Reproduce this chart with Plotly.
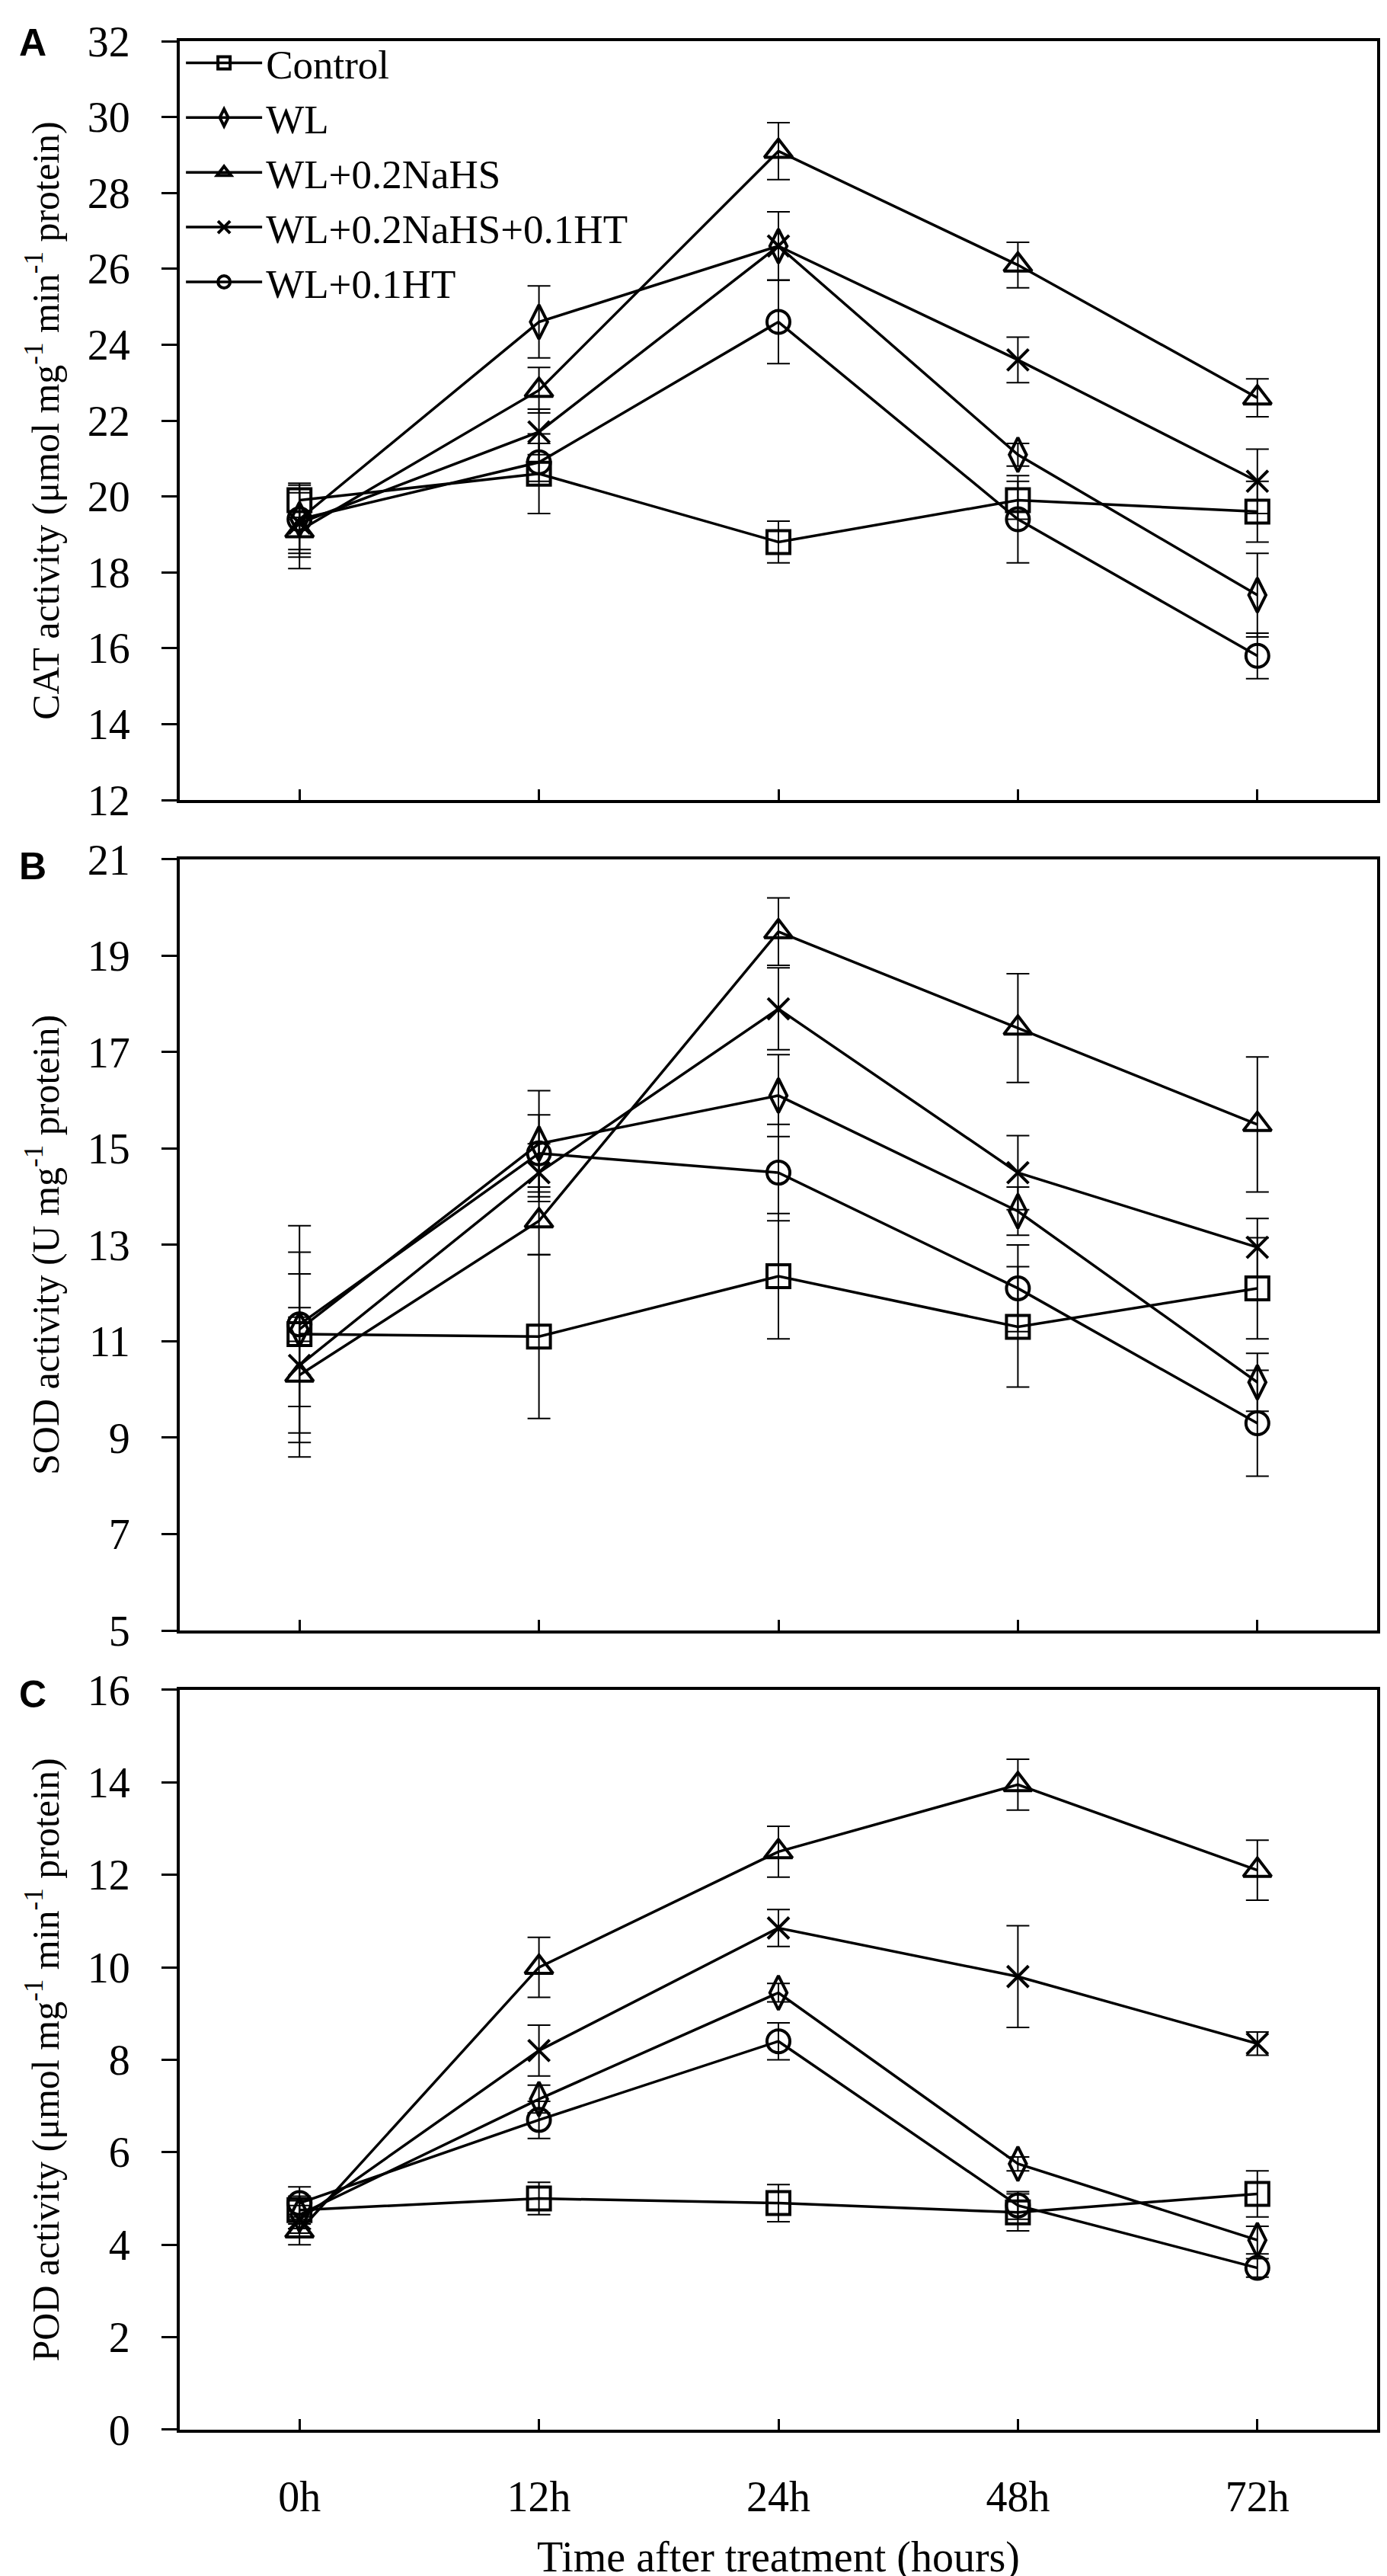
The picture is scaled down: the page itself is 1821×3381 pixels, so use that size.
import plotly.graph_objs as go

# time points
hours = ['0h', '12h', '24h', '48h', '72h']
names = ['Control', 'WL', 'WL+0.2NaHS', 'WL+0.2NaHS+0.1HT', 'WL+0.1HT']

# A: CAT activity
cat_control = [19.9, 20.6, 18.8, 19.9, 19.6]
cat_wl = [19.4, 24.6, 26.6, 21.1, 17.4]
cat_nahs = [19.1, 22.8, 29.1, 26.1, 22.6]
cat_nahs_ht = [19.3, 21.7, 26.6, 23.6, 20.4]
cat_ht = [19.4, 20.9, 24.6, 19.4, 15.8]
cat_control_err = [0.45, 1.05, 0.55, 0.5, 0.8]
cat_wl_err = [0.9, 0.95, 0.9, 0.3, 1.1]
cat_nahs_err = [1.0, 0.6, 0.75, 0.6, 0.5]
cat_nahs_ht_err = [0.9, 0.6, 0.9, 0.6, 0.85]
cat_ht_err = [0.8, 0.5, 1.1, 1.15, 0.6]

# B: SOD activity
sod_control = [11.15, 11.1, 12.35, 11.3, 12.1]
sod_wl = [11.25, 15.1, 16.1, 13.7, 10.15]
sod_nahs = [10.3, 13.5, 19.5, 17.5, 15.5]
sod_nahs_ht = [10.5, 14.5, 17.9, 14.5, 12.95]
sod_ht = [11.35, 14.9, 14.5, 12.1, 9.3]
sod_control_err = [2.25, 1.7, 1.3, 1.25, 1.05]
sod_wl_err = [1.6, 1.1, 0.85, 0.5, 0.6]
sod_nahs_err = [1.2, 0.7, 0.7, 1.13, 1.4]
sod_nahs_ht_err = [1.9, 0.6, 0.85, 0.77, 0.6]
sod_ht_err = [0.35, 0.8, 1.0, 0.9, 1.1]

# C: POD activity
pod_control = [4.75, 5.0, 4.9, 4.7, 5.1]
pod_wl = [4.65, 7.15, 9.45, 5.75, 4.1]
pod_nahs = [4.3, 10.0, 12.5, 13.95, 12.1]
pod_nahs_ht = [4.55, 8.2, 10.85, 9.8, 8.35]
pod_ht = [4.9, 6.7, 8.4, 4.85, 3.5]
pod_control_err = [0.3, 0.35, 0.4, 0.4, 0.5]
pod_wl_err = [0.3, 0.3, 0.2, 0.15, 0.3]
pod_nahs_err = [0.3, 0.65, 0.55, 0.55, 0.65]
pod_nahs_ht_err = [0.3, 0.55, 0.4, 1.1, 0.25]
pod_ht_err = [0.35, 0.4, 0.4, 0.3, 0.2]

symbols = ['square-open', 'diamond-tall-open', 'triangle-up-open', 'x-thin-open', 'circle-open']
msizes = [30, 32, 32, 28, 30]

panels = [
    ([cat_control, cat_wl, cat_nahs, cat_nahs_ht, cat_ht],
     [cat_control_err, cat_wl_err, cat_nahs_err, cat_nahs_ht_err, cat_ht_err]),
    ([sod_control, sod_wl, sod_nahs, sod_nahs_ht, sod_ht],
     [sod_control_err, sod_wl_err, sod_nahs_err, sod_nahs_ht_err, sod_ht_err]),
    ([pod_control, pod_wl, pod_nahs, pod_nahs_ht, pod_ht],
     [pod_control_err, pod_wl_err, pod_nahs_err, pod_nahs_ht_err, pod_ht_err]),
]

data = []
for p, (vals, errs) in enumerate(panels):
    ax = '' if p == 0 else str(p + 1)
    for i in range(5):
        data.append(go.Scatter(
            x=hours, y=vals[i], name=names[i], mode='lines+markers',
            xaxis='x' + ax, yaxis='y' + ax, showlegend=(p == 0),
            line=dict(color='black', width=3.5),
            marker=dict(symbol=symbols[i], size=msizes[i], color='black',
                        line=dict(color='black', width=4)),
            error_y=dict(type='data', array=errs[i], color='black',
                         thickness=2, width=15)))

font = 'Liberation Serif'
W, H = 1821, 3381
ml, mr, mt, mb = 228, 21, 46, 197
ph = H - mt - mb


def dom(top_px, bot_px):
    return [(H - mb - bot_px) / ph, (H - mb - top_px) / ph]


def xax(anchor, labels):
    return dict(anchor=anchor, type='category', range=[-0.5, 4.5],
                showline=True, mirror=True, linewidth=4, linecolor='black',
                ticks='inside', ticklen=14, tickwidth=3, tickcolor='black',
                showticklabels=labels, showgrid=False, zeroline=False,
                tickfont=dict(family=font, size=56, color='black'),
                ticklabelstandoff=36)


def yax(anchor, rng, dtick, d, title):
    return dict(anchor=anchor, range=rng, dtick=dtick, tick0=rng[0], domain=d,
                showline=True, mirror=True, linewidth=4, linecolor='black',
                ticks='outside', ticklen=20, tickwidth=3, tickcolor='black',
                showgrid=False, zeroline=False,
                tickfont=dict(family=font, size=56, color='black'),
                ticklabelstandoff=30,
                title=dict(text=title, standoff=22,
                           font=dict(family=font, size=50, color='black')))


x3 = xax('y3', True)
x3['title'] = dict(text='Time after treatment (hours)', standoff=30,
                   font=dict(family=font, size=56, color='black'))

layout = dict(
    width=W, height=H,
    margin=dict(l=ml, r=mr, t=mt, b=mb),
    paper_bgcolor='white', plot_bgcolor='white',
    font=dict(family=font, color='black'),
    xaxis=xax('y', False),
    xaxis2=xax('y2', False),
    xaxis3=x3,
    yaxis=yax('x', [12, 32], 2, dom(46, 1043),
              'CAT activity (μmol mg<sup>-1</sup> min<sup>-1</sup> protein)'),
    yaxis2=yax('x2', [5, 21], 2, dom(1121, 2134),
               'SOD activity (U mg<sup>-1</sup> protein)'),
    yaxis3=yax('x3', [0, 16], 2, dom(2212, 3184),
               'POD activity (μmol mg<sup>-1</sup> min<sup>-1</sup> protein)'),
    legend=dict(x=0.002, y=1.004, xanchor='left', yanchor='top',
                bgcolor='rgba(0,0,0,0)', itemwidth=100,
                font=dict(family=font, size=53, color='black')),
    annotations=[
        dict(text='<b>A</b>', x=15, y=18),
        dict(text='<b>B</b>', x=15, y=1100),
        dict(text='<b>C</b>', x=15, y=2188),
    ],
)

# panel letters: pixel spots -> paper coords
for a in layout['annotations']:
    a['x'] = (a['x'] - ml) / (W - ml - mr)
    a['y'] = (H - mb - a['y']) / ph
    a.update(xref='paper', yref='paper', xanchor='left', yanchor='top',
             showarrow=False,
             font=dict(family='Liberation Sans', size=50, color='black'))

fig = go.Figure(data=data, layout=layout)
fig.write_html('out.html')
